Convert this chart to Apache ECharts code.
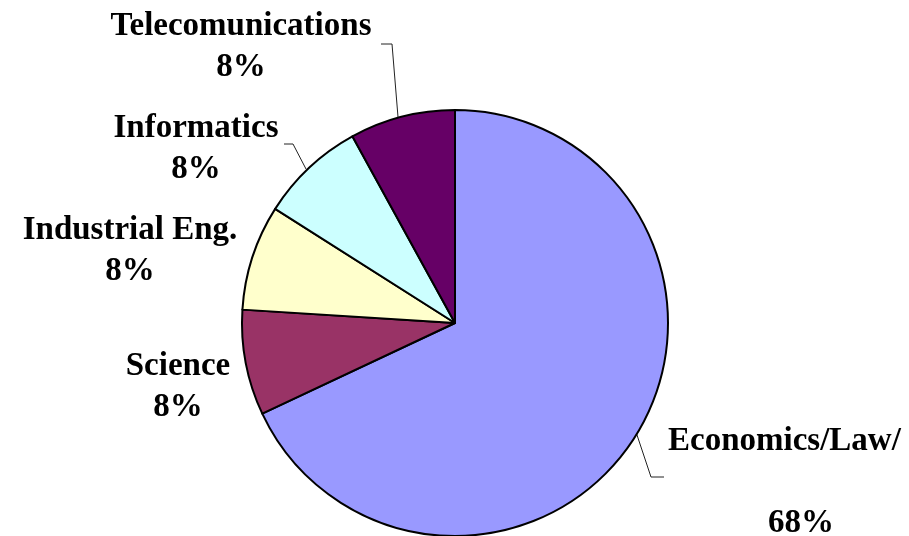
<!DOCTYPE html>
<html>
<head>
<meta charset="utf-8">
<script src="https://cdn.jsdelivr.net/npm/echarts@6/dist/echarts.min.js"></script>
<style>html,body{margin:0;padding:0;background:#fff}#c{width:909px;height:536px}</style>
</head>
<body>
<div id="c"></div>
<script>
const categories = ['Economics/Law/', 'Science', 'Industrial Eng.', 'Informatics', 'Telecomunications'];
const values = [68, 8, 8, 8, 8];
const colors = ['#9999FF', '#993366', '#FFFFCC', '#CCFFFF', '#660066'];

// label placement (style only)
const labelPos = [
  {x: 668, y: 482, align: 'left'},
  {x: 178, y: 387, align: 'center'},
  {x: 130, y: 251, align: 'center'},
  {x: 196, y: 149, align: 'center'},
  {x: 241, y: 47, align: 'center'}
];
const linePts = [
  [[636, 432], [651, 477], [664, 477]],
  null,
  null,
  [[306, 169], [293, 144], [284, 144]],
  [[398, 117], [392, 44], [381, 44]]
];

const chart = echarts.init(document.getElementById('c'), null, {renderer: 'canvas'});
const font = '"Liberation Serif", "Times New Roman", serif';
chart.setOption({
  animation: false,
  backgroundColor: '#ffffff',
  series: [{
    type: 'pie',
    center: [455, 323],
    radius: 213,
    startAngle: 90,
    clockwise: true,
    avoidLabelOverlap: false,
    itemStyle: {borderColor: '#000', borderWidth: 2},
    label: {
      show: true,
      position: 'outside',
      color: '#000',
      fontFamily: font,
      fontWeight: 'bold',
      fontSize: 33,
      lineHeight: 41,
      formatter: function (p) {
        const pct = Math.round(p.percent) + '%';
        if (p.dataIndex === 0) return '{a|' + p.name + '}\n{a|}\n{b|' + pct + '}';
        return p.name + '\n' + pct;
      },
      rich: {
        a: {fontFamily: font, fontWeight: 'bold', fontSize: 33, lineHeight: 41, color: '#000', align: 'left'},
        b: {fontFamily: font, fontWeight: 'bold', fontSize: 33, lineHeight: 41, color: '#000', align: 'center'}
      }
    },
    labelLine: {show: true, lineStyle: {color: '#222', width: 1}},
    labelLayout: function (params) {
      const i = params.dataIndex;
      const r = {x: labelPos[i].x, y: labelPos[i].y, align: labelPos[i].align, verticalAlign: 'middle'};
      if (linePts[i]) r.labelLinePoints = linePts[i];
      return r;
    },
    data: categories.map(function (name, i) {
      const d = {name: name, value: values[i], itemStyle: {color: colors[i]}};
      if (!linePts[i]) d.labelLine = {show: false};
      if (i === 0) d.label = {width: 266, overflow: 'none'};
      return d;
    })
  }]
});
</script>
</body>
</html>
